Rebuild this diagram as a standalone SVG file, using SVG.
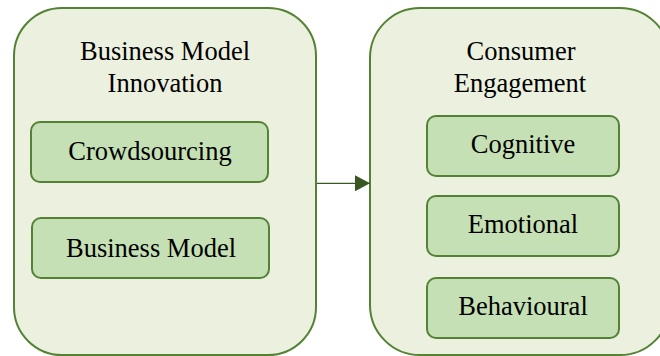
<svg xmlns="http://www.w3.org/2000/svg" width="660" height="356" viewBox="0 0 660 356">
  <style>
    .outer { fill: #ebf1de; stroke: #548235; stroke-width: 2; }
    .inner { fill: #c5e0b4; stroke: #548235; stroke-width: 2; }
    text { font-family: "Liberation Serif", "Times New Roman", serif; font-size: 26.5px; fill: #000; text-anchor: middle; }
    .link { stroke: #385723; stroke-width: 1.2; fill: none; }
  </style>
  <defs>
    <marker id="arrow" markerUnits="userSpaceOnUse" markerWidth="16" markerHeight="16" refX="15" refY="8" orient="auto">
      <path d="M0,0 L15,8 L0,16 Z" fill="#385723"/>
    </marker>
  </defs>

  <!-- Business Model Innovation -->
  <g id="bmi">
    <rect class="outer" x="14" y="8" width="302" height="347" rx="48" ry="48"/>
    <text x="165" y="60">Business Model</text>
    <text x="165" y="92">Innovation</text>
  </g>
  <g id="crowdsourcing">
    <rect class="inner" x="31" y="122" width="237" height="60" rx="9" ry="9"/>
    <text x="150" y="160">Crowdsourcing</text>
  </g>
  <g id="business-model">
    <rect class="inner" x="32" y="218" width="237" height="60" rx="9" ry="9"/>
    <text x="151" y="257">Business Model</text>
  </g>

  <!-- Consumer Engagement -->
  <g id="ce">
    <rect class="outer" x="370" y="8" width="300" height="347" rx="50" ry="50"/>
    <text x="521" y="60">Consumer</text>
    <text x="520" y="92">Engagement</text>
  </g>
  <g id="cognitive">
    <rect class="inner" x="427" y="116" width="192" height="60" rx="9" ry="9"/>
    <text x="523" y="153">Cognitive</text>
  </g>
  <g id="emotional">
    <rect class="inner" x="427" y="196" width="192" height="60" rx="9" ry="9"/>
    <text x="523" y="233">Emotional</text>
  </g>
  <g id="behavioural">
    <rect class="inner" x="427" y="278" width="192" height="60" rx="9" ry="9"/>
    <text x="523" y="315">Behavioural</text>
  </g>

  <!-- connectors -->
  <g id="connectors">
    <line class="link" x1="317" y1="183.3" x2="370" y2="183.3" marker-end="url(#arrow)"/>
  </g>
</svg>
